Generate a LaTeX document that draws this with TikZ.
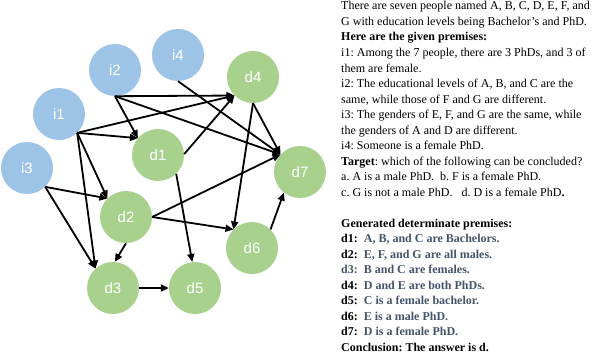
\documentclass[tikz,border=0pt]{standalone}
\usepackage{fontspec}
\setmainfont{Liberation Serif}
\newfontfamily\nodefont{Liberation Sans}
\usetikzlibrary{arrows.meta}
\definecolor{iblue}{HTML}{9DC3E6}
\definecolor{dgreen}{HTML}{A9D18E}
\definecolor{dtext}{HTML}{44546A}
\frenchspacing
\begin{document}
\begin{tikzpicture}[x=1pt,y=-1pt,
  inode/.style={circle,fill=iblue,minimum size=52pt,inner sep=0pt,text=white,font=\nodefont\fontsize{15}{18}\selectfont},
  dnode/.style={circle,fill=dgreen,minimum size=52pt,inner sep=0pt,text=white,font=\nodefont\fontsize{15}{18}\selectfont},
  edge/.style={-{Triangle[length=8pt,width=7pt]},line width=1.8pt},
  tline/.style={anchor=base west,inner sep=0pt,font=\fontsize{12}{14}\selectfont},
  dlab/.style={tline,text=dtext,font=\fontsize{12}{14}\selectfont\bfseries}]
\useasboundingbox (0,0) rectangle (609,353);
% nodes
\node[inode] (i4) at (178,55) {i4};
\node[inode] (i2) at (115,70) {i2};
\node[inode] (i1) at (59,114) {i1};
\node[inode] (i3) at (27,168) {i3};
\node[dnode] (d4) at (253,77) {d4};
\node[dnode] (d1) at (158,155) {d1};
\node[dnode] (d7) at (300,172) {d7};
\node[dnode] (d2) at (126,217) {d2};
\node[dnode] (d6) at (252,248) {d6};
\node[dnode] (d3) at (113,288) {d3};
\node[dnode] (d5) at (195,288) {d5};
% edges
\draw[edge] (i2.south) -- (d4.-135);
\draw[edge] (i2.south) -- (d1.140);
\draw[edge] (i2.south) -- (d7.138);
\draw[edge] (i4.south) -- (d7.138);
\draw[edge] (i1.-46) -- (d4.-135);
\draw[edge] (i1.-46) -- (d1.140);
\draw[edge] (i1.-46) -- (d2.135);
\draw[edge] (i1.-46) -- (d3.132);
\draw[edge] (i3.-46) -- (d2.135);
\draw[edge] (i3.-46) -- (d3.132);
\draw[edge] (d1.2) -- (d4.-135);
\draw[edge] (d1.-46) -- (d5.96);
\draw[edge] (d4.south) -- (d7.138);
\draw[edge] (d4.south) -- (d6.135);
\draw[edge] (d2.east) -- (d7.138);
\draw[edge] (d2.east) -- (d6.135);
\draw[edge] (d2.south) -- (d3.86);
\draw[edge] (d3.east) -- (d5.west);
\draw[edge] (d6.45) -- (d7.-128);
% text
\node[tline] (t0) at (341,10) {There are seven people named A, B, C, D, E, F, and};
\node[tline] (t1) at (341,25.5) {G with education levels being Bachelor's and PhD.};
\node[tline] (t2) at (341,41) {\textbf{Here are the given premises:}};
\node[tline] (t3) at (341,56.5) {i1: Among the 7 people, there are 3 PhDs, and 3 of};
\node[tline] (t4) at (341,72) {them are female.};
\node[tline] (t5) at (341,87.5) {i2: The educational levels of A, B, and C are the};
\node[tline] (t6) at (341,103) {same, while those of F and G are different.};
\node[tline] (t7) at (341,118.5) {i3: The genders of E, F, and G are the same, while};
\node[tline] (t8) at (341,134) {the genders of A and D are different.};
\node[tline] (t9) at (341,149.5) {i4: Someone is a female PhD.};
\node[tline] (t10) at (341,165) {\textbf{Target}: which of the following can be concluded?};
\node[tline] (t11) at (341,180.5) {a. A is a male PhD.\ \ b. F is a female PhD.};
\node[tline] (t12) at (341,196) {c. G is not a male PhD.\ \ \ d. D is a female PhD\textbf{.}};
\node[tline] (t14) at (341,227) {\textbf{Generated determinate premises:}};
\node[dlab] (t15) at (341,242.5) {\textcolor{black}{d1:}\ \ A, B, and C are Bachelors.};
\node[dlab] (t16) at (341,258) {\textcolor{black}{d2:}\ \ E, F, and G are all males.};
\node[dlab] (t17) at (341,273.5) {d3:\ \ B and C are females.};
\node[dlab] (t18) at (341,289) {\textcolor{black}{d4:}\ \ D and E are both PhDs.};
\node[dlab] (t19) at (341,304.5) {\textcolor{black}{d5:}\ \ C is a female bachelor.};
\node[dlab] (t20) at (341,320) {\textcolor{black}{d6:}\ \ E is a male PhD.};
\node[dlab] (t21) at (341,335.5) {\textcolor{black}{d7:}\ \ D is a female PhD.};
\node[tline] (t22) at (341,351) {\textbf{Conclusion: The answer is d.}};
\end{tikzpicture}
\end{document}
